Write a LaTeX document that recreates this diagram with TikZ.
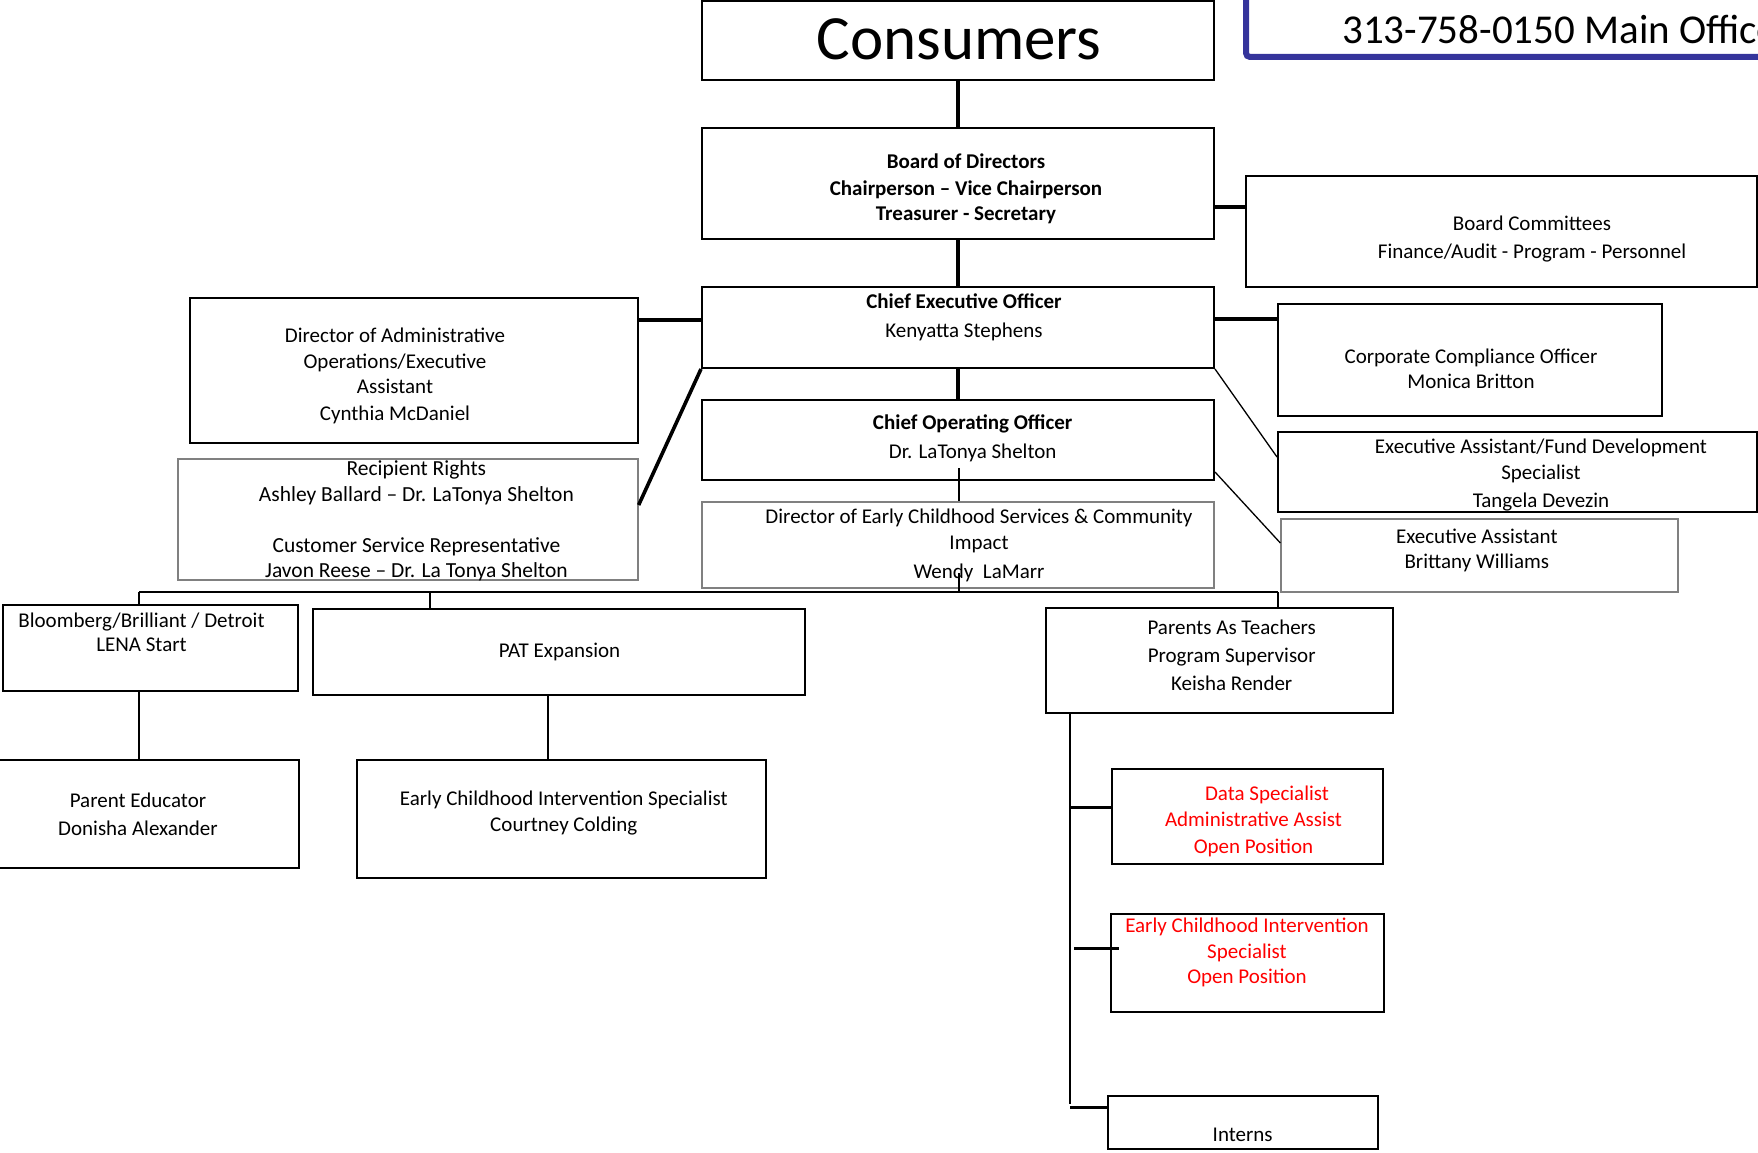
\documentclass[tikz,border=0pt]{standalone}
\usepackage{fontspec}
\setmainfont{Carlito}
\usepackage{tikz}
\definecolor{phoneblue}{RGB}{53,52,155}

\begin{document}
\begin{tikzpicture}[x=1pt,y=-1pt,
	box/.style={draw,line width=2pt,inner sep=0pt},
	greybox/.style={draw=gray,line width=1.3pt,inner sep=0pt},
	txt/.style={align=center,inner sep=0pt,font=\fontsize{21}{25.5}\selectfont},
	redtxt/.style={txt,text=red},
	heavy/.style={line width=4.8pt},
	stub/.style={line width=3.6pt},
	branch/.style={line width=1.8pt},
	fine/.style={line width=1.3pt}]
	\useasboundingbox (0,0) rectangle (1758,1153);

	\node[box,draw=phoneblue,line width=6pt,rounded corners=4pt,minimum width=654,minimum height=117] (phone) at (1573,-1.5) {};
	\node[anchor=base west,inner sep=0pt,font=\fontsize{41}{48}\selectfont] (phone-txt) at (1342,43.3) {313-758-0150 Main Office};

	\node[box,minimum width=512,minimum height=78.5] (consumers) at (958,40.75) {};
	\node[inner sep=0pt,font=\fontsize{63}{70}\selectfont] (consumers-txt) at (959,39) {Consumers};

	\node[box,minimum width=512,minimum height=111] (board) at (958,183.5) {};
	\node[txt,font=\fontsize{21}{25.5}\selectfont\bfseries] (board-txt) at (966,189) {Board of Directors\\[1.5pt] Chairperson – Vice Chairperson\\ Treasurer - Secretary};
	\node[box,minimum width=510.5,minimum height=111] (committees) at (1501.25,231.5) {};
	\node[txt] (committees-txt) at (1532,239) {Board Committees\\[2pt] Finance/Audit - Program - Personnel};

	\node[box,minimum width=512,minimum height=81] (ceo) at (958,327.5) {};
	\node[txt] (ceo-txt) at (964,317) {\textbf{Chief Executive Officer}\\[3.5pt] Kenyatta Stephens};
	\node[box,minimum width=384,minimum height=112] (corp) at (1470,360) {};
	\node[txt] (corp-txt) at (1471,369) {Corporate Compliance Officer\\ Monica Britton};
	\node[box,minimum width=448.4,minimum height=144.4] (admin) at (413.8,370.5) {};
	\node[txt] (admin-txt) at (395,376) {Director of Administrative\\ Operations/Executive\\ Assistant\\[1.5pt] Cynthia McDaniel};
	\node[greybox,minimum width=460,minimum height=121] (recip) at (408,519.5) {};
	\node[txt,font=\fontsize{21.5}{25.5}\selectfont] (recip-txt) at (416.4,521) {Recipient Rights\\ Ashley Ballard – Dr. LaTonya Shelton\\[25.5pt] Customer Service Representative\\ Javon Reese – Dr. La Tonya Shelton};

	\node[box,minimum width=512,minimum height=80] (coo) at (958,440) {};
	\node[txt] (coo-txt) at (972.7,438.5) {\textbf{Chief Operating Officer}\\[3pt] Dr. LaTonya Shelton};
	\node[box,minimum width=478.5,minimum height=80] (fund) at (1517.25,472) {};
	\node[txt] (fund-txt) at (1541,475.4) {Executive Assistant/Fund Development\\ Specialist\hspace*{79pt}\\[3pt] Tangela Devezin};
	\node[greybox,minimum width=397,minimum height=73] (britt) at (1479.5,555.5) {};
	\node[txt] (britt-txt) at (1476.8,550.2) {Executive Assistant\\ Brittany Williams};
	\node[greybox,minimum width=512,minimum height=86] (director) at (958,545) {};
	\node[txt] (director-txt) at (979,545.4) {Director of Early Childhood Services \& Community\\ Impact\hspace*{38pt}\\[4pt] Wendy\ \ LaMarr};

	\node[box,minimum width=295,minimum height=86] (bloom) at (150.5,648) {};
	\node[txt] (bloom-txt) at (141.5,632) {Bloomberg/Brilliant / Detroit\\[-1.5pt] LENA Start};
	\node[box,minimum width=492,minimum height=86] (pat) at (559,652) {};
	\node[txt] (pat-txt) at (559.6,651.7) {PAT Expansion};
	\node[box,minimum width=301,minimum height=108] (parented) at (148.5,814) {};
	\node[txt] (parented-txt) at (138,814) {Parent Educator\\[2.5pt] Donisha Alexander};
	\node[box,minimum width=409,minimum height=118] (ecis) at (561.5,819) {};
	\node[txt] (ecis-txt) at (563.8,813) {Early Childhood Intervention Specialist\\ Courtney Colding};

	\node[box,minimum width=347,minimum height=105.3] (pateach) at (1219.5,660.5) {};
	\node[txt] (pateach-txt) at (1231.7,655.5) {Parents As Teachers\\[2.5pt] Program Supervisor\\[2.5pt] Keisha Render};
	\node[box,minimum width=271,minimum height=95.4] (data) at (1247.5,816.7) {};
	\node[redtxt] (data-txt) at (1253.5,821.8) {\hspace*{27pt}Data Specialist\\[0.5pt] Administrative Assist\\[1.5pt] Open Position};
	\node[box,minimum width=273,minimum height=97.8] (ecisopen) at (1247.5,962.7) {};
	\node[redtxt] (ecisopen-txt) at (1247,952.4) {Early Childhood Intervention\\ Specialist\\ Open Position};
	\node[box,minimum width=270,minimum height=53.4] (interns) at (1243,1122.2) {};
	\node[txt] (interns-txt) at (1242.7,1134.5) {Interns};

	\coordinate (cootail) at (959,468);
	\coordinate (dirtail) at (959,573);
	\coordinate (busL) at (139,592);
	\coordinate (busR) at (1278,592);
	\coordinate (patdrop) at (430,592);
	\coordinate (patdown) at (547.6,695);
	\coordinate (spine) at (1070,713);
	\coordinate (spineend) at (1070,1103.5);
	\coordinate (ecstubL) at (1074,948.3);
	\coordinate (ecstubR) at (1119,948.3);

	\draw[heavy] (consumers.south) -- (board.north);
	\draw[heavy] (board.south) -- (ceo.north);
	\draw[stub] (board.east |- 0,207) -- (committees.west |- 0,207);
	\draw[heavy] (admin.east |- 0,320) -- (ceo.west |- 0,320);
	\draw[heavy] (ceo.east |- 0,319) -- (corp.west |- 0,319);
	\draw[heavy] (ceo.south) -- (coo.north);
	\draw[stub] (ceo.south west) -- (recip.east |- 0,505);
	\draw[fine] (ceo.south east) -- (fund.west |- 0,457);
	\draw[fine] (coo.east |- 0,472) -- (britt.west |- 0,543);
	\draw[fine] (cootail) -- (director.north -| cootail);
	\draw[fine] (dirtail) -- (dirtail |- busL);

	\draw[branch] (busL) -- (busR);
	\draw[branch] (busL) -- (bloom.north -| busL);
	\draw[branch] (patdrop) -- (pat.north -| patdrop);
	\draw[branch] (busR) -- (pateach.north -| busR);
	\draw[branch] (bloom.south -| busL) -- (parented.north -| busL);
	\draw[branch] (patdown) -- (ecis.north -| patdown);

	\draw[branch] (spine) -- (spineend);
	\draw[stub] (spine |- 0,807.5) -- (data.west |- 0,807.5);
	\draw[stub] (ecstubL) -- (ecstubR);
	\draw[stub] (spine |- 0,1107.5) -- (interns.west |- 0,1107.5);
\end{tikzpicture}
\end{document}
